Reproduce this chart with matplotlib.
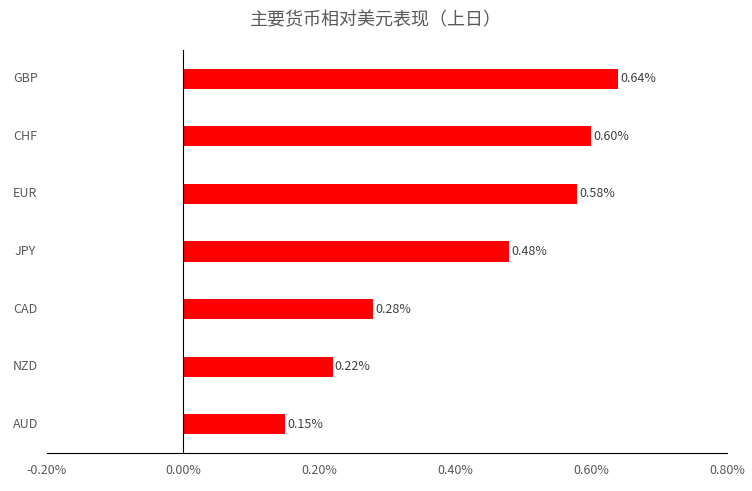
import matplotlib
matplotlib.use("Agg")
import matplotlib.pyplot as plt
import matplotlib.transforms as mtransforms
from matplotlib.ticker import FuncFormatter

plt.rcParams['font.family'] = ['Noto Sans CJK SC', 'DejaVu Sans']

categories = ["GBP", "CHF", "EUR", "JPY", "CAD", "NZD", "AUD"]
values = [0.64, 0.60, 0.58, 0.48, 0.28, 0.22, 0.15]
labels = ["0.64%", "0.60%", "0.58%", "0.48%", "0.28%", "0.22%", "0.15%"]
title = "主要货币相对美元表现（上日）"

fig = plt.figure(figsize=(7.52, 4.91), dpi=100)
ax = fig.add_axes([47/752, 38/491, 680/752, 403/491])

n = len(categories)
ypos = [n - 1 - i for i in range(n)]
ax.barh(ypos, values, height=0.35, color="#FF0000")
for y, v, l in zip(ypos, values, labels):
    ax.text(v + 0.003, y, l, va="center", ha="left", fontsize=9, color="#404040")

ax.set_xlim(-0.2, 0.8)
ax.set_ylim(-0.5, 6.5)
ax.set_xticks([-0.2, 0, 0.2, 0.4, 0.6, 0.8])
ax.xaxis.set_major_formatter(FuncFormatter(lambda x, p: f"{x:.2f}%"))
ax.tick_params(axis="x", length=0, labelsize=9, labelcolor="#595959", pad=8)
ax.set_yticks([])
for s in ["left", "right", "top"]:
    ax.spines[s].set_visible(False)
ax.spines["bottom"].set_color("#000000")
ax.spines["bottom"].set_linewidth(0.8)
ax.axvline(0, color="#000000", linewidth=0.8)

trans = mtransforms.blended_transform_factory(ax.transAxes, ax.transData)
for y, c in zip(ypos, categories):
    ax.text(-0.032, y, c, transform=trans, ha="center", va="center", fontsize=9, color="#595959")

fig.text(0.5, 0.958, title, ha="center", va="center", fontsize=13, color="#595959")
fig.savefig("out.png", dpi=100)
